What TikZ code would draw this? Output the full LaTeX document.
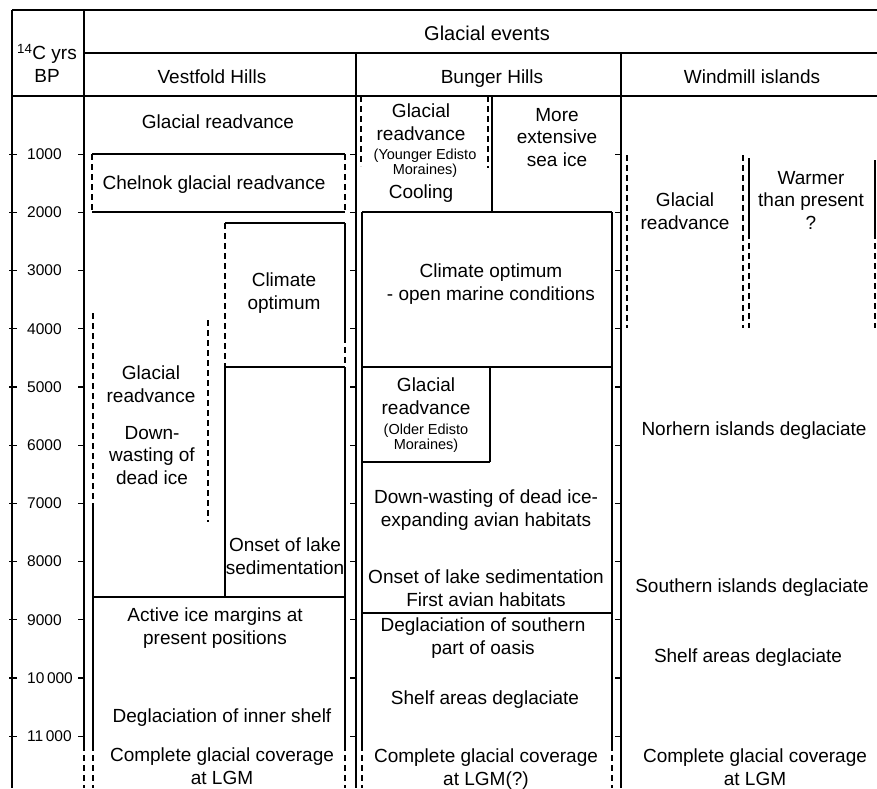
\documentclass[tikz,border=0pt]{standalone}
\usepackage{fontspec}
\setmainfont{Liberation Sans}
\newcommand\mainsz{\fontsize{19}{22.5}\selectfont}
\newcommand\bigsz{\fontsize{20}{22.5}\selectfont}
\newcommand\smallsz{\fontsize{14.5}{12.5}\selectfont}
\newcommand\axsz{\fontsize{15.5}{18}\selectfont}
\begin{document}
\begin{tikzpicture}[x=1pt,y=-1pt,
  ln/.style={line width=1.1pt},
  dsh/.style={line width=1.1pt, dash pattern=on 6pt off 4pt},
  txt/.style={font=\mainsz, align=center, inner sep=0pt, yshift=-2.5pt,
    execute at begin node=\strut, execute at end node=\strut},
  sml/.style={font=\smallsz, align=center, inner sep=0pt},
  axl/.style={font=\axsz, anchor=west, inner sep=0pt}]
\useasboundingbox (0,0) rectangle (877,788);
\fill[white] (0,0) rectangle (877,788);
% ---- grid
\draw[ln] (12,10) -- (877,10);
\draw[ln] (84,53) -- (877,53);
\draw[ln] (12,96) -- (877,96);
\draw[ln] (12,10) -- (12,788);
\draw[ln] (84,10) -- (84,745);
\draw[dsh] (84,745) -- (84,788);
\draw[ln] (356,53) -- (356,788);
\draw[ln] (621,53) -- (621,788);
% ---- ticks and axis labels
\foreach \k/\lab in {1/1000,2/2000,3/3000,4/4000,5/5000,6/6000,7/7000,8/8000,9/9000,10/{10\,000},11/{11\,000}}{
  \pgfmathsetmacro\yy{96+58.2*\k}
  \draw[ln] (9,\yy) -- (17,\yy);
  \draw[ln] (78,\yy) -- (84,\yy);
  \draw[ln] (350,\yy) -- (356,\yy);
  \draw[ln] (615,\yy) -- (621,\yy);
  \node[axl] (ax\k) at (27,\yy) {\lab};
}
% ---- header texts
\node[txt] (yrs) at (47,64) {\textsuperscript{14}C yrs\\BP};
\node[txt, font=\bigsz] (ge) at (487,33) {Glacial events};
\node[txt] (hv) at (212,76) {Vestfold Hills};
\node[txt] (hb) at (492,76) {Bunger Hills};
\node[txt] (hw) at (752,76) {Windmill islands};
% ---- Vestfold Hills lines
\draw[ln] (92,154) -- (345,154);
\draw[ln] (92,212) -- (345,212);
\draw[dsh] (92,154) -- (92,212);
\draw[dsh] (345,154) -- (345,212);
\draw[ln] (225,223) -- (345,223);
\draw[dsh] (225,223) -- (225,367);
\draw[ln] (345,223) -- (345,337);
\draw[dsh] (345,337) -- (345,367);
\draw[ln] (225,367) -- (345,367);
\draw[ln] (225,367) -- (225,597);
\draw[ln] (345,367) -- (345,745);
\draw[dsh] (345,745) -- (345,788);
\draw[dsh] (93,313) -- (93,506);
\draw[ln] (93,506) -- (93,745);
\draw[dsh] (93,745) -- (93,788);
\draw[dsh] (208,320) -- (208,522);
\draw[ln] (93,597) -- (345,597);
% ---- Vestfold Hills texts
\node[txt] (v1) at (218,121) {Glacial readvance};
\node[txt] (v2) at (214,182) {Chelnok glacial readvance};
\node[txt] (v3) at (284,292) {Climate\\optimum};
\node[txt] (v4) at (151,385) {Glacial\\readvance};
\node[txt] (v5) at (152,456) {Down-\\wasting of\\dead ice};
\node[txt] (v6) at (285,557) {Onset of lake\\sedimentation};
\node[txt] (v7) at (215,627) {Active ice margins at\\present positions};
\node[txt] (v8) at (222,715) {Deglaciation of inner shelf};
\node[txt] (v9) at (222,767) {Complete glacial coverage\\at LGM};
% ---- Bunger Hills lines
\draw[dsh] (361,96) -- (361,166);
\draw[dsh] (488,96) -- (488,168);
\draw[ln] (492,96) -- (492,212);
\draw[ln] (362,212) -- (612,212);
\draw[ln] (362,212) -- (362,745);
\draw[ln] (612,212) -- (612,745);
\draw[dsh] (362,745) -- (362,788);
\draw[dsh] (612,745) -- (612,788);
\draw[ln] (362,367) -- (612,367);
\draw[ln] (490,367) -- (490,462);
\draw[ln] (362,462) -- (490,462);
\draw[ln] (362,613) -- (612,613);
% ---- Bunger Hills texts
\node[txt] (b1) at (421,123) {Glacial\\readvance};
\node[sml] (b2) at (425,163) {(Younger Edisto\\Moraines)};
\node[txt] (b3) at (421,191) {Cooling};
\node[txt] (b4) at (557,138) {More\\extensive\\sea ice};
\node[txt] (b5) at (491,283) {Climate optimum\\- open marine conditions};
\node[txt] (b6) at (426,397) {Glacial\\readvance};
\node[sml] (b7) at (426,438) {(Older Edisto\\Moraines)};
\node[txt] (b8) at (486,509) {Down-wasting of dead ice-\\expanding avian habitats};
\node[txt] (b9) at (486,589) {Onset of lake sedimentation\\First avian habitats};
\node[txt] (b10) at (483,637) {Deglaciation of southern\\part of oasis};
\node[txt] (b11) at (485,697) {Shelf areas deglaciate};
\node[txt] (b12) at (486,768) {Complete glacial coverage\\at LGM(?)};
% ---- Windmill islands lines
\draw[dsh] (627,155) -- (627,328);
\draw[dsh] (743,155) -- (743,328);
\draw[ln] (749,158) -- (749,233);
\draw[dsh] (749,233) -- (749,328);
\draw[ln] (875,160) -- (875,233);
\draw[dsh] (875,233) -- (875,328);
% ---- Windmill islands texts
\node[txt] (w1) at (685,212) {Glacial\\readvance};
\node[txt] (w2) at (811,201) {Warmer\\than present\\?};
\node[txt] (w3) at (754,428) {Norhern islands deglaciate};
\node[txt] (w4) at (752,585) {Southern islands deglaciate};
\node[txt] (w5) at (748,655) {Shelf areas deglaciate};
\node[txt] (w6) at (755,768) {Complete glacial coverage\\at LGM};
\end{tikzpicture}
\end{document}
